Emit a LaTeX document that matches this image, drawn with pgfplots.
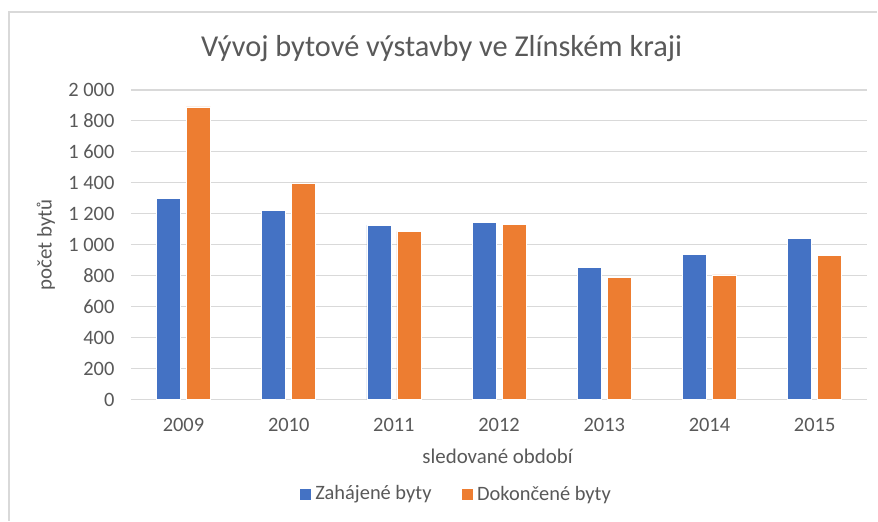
\documentclass[border=0pt]{standalone}
\usepackage{pgfplots}
\pgfplotsset{compat=1.18}
\usepackage{fontspec}
\setmainfont{Carlito}
\definecolor{zah}{HTML}{4472C4}
\definecolor{dok}{HTML}{ED7D31}
\definecolor{txt}{HTML}{595959}
\definecolor{grd}{HTML}{D9D9D9}

\begin{document}
\begin{tikzpicture}[x=1bp,y=1bp]
% page and outer frame
\fill[white] (0,0) rectangle (878,521);
\draw[grd, line width=1.5bp] (9,0) -- (9,509) -- (878,509);

\begin{axis}[
    at={(131bp,121bp)}, anchor=south west,
    scale only axis,
    width=737bp, height=310bp,
    ybar=6bp, bar width=24bp,
    xmin=-0.5, xmax=6.5,
    ymin=0, ymax=2000,
    xtick={0,...,6},
    xticklabels={2009,2010,2011,2012,2013,2014,2015},
    ytick={0,200,...,2000},
    yticklabels={0,200,400,600,800,1 000,1 200,1 400,1 600,1 800,2 000},
    ymajorgrids,
    grid style={grd, line width=1.2bp},
    axis line style={draw=none},
    major tick length=0pt,
    tick label style={font=\fontsize{20.5}{24}\selectfont, text=txt},
    yticklabel style={xshift=-13bp},
    xticklabel style={yshift=-15bp},
]
\addplot[fill=zah, draw=white, line width=0.6bp] coordinates {
(0,1297) (1,1224) (2,1127) (3,1146) (4,852) (5,938) (6,1041)};
\addplot[fill=dok, draw=white, line width=0.6bp] coordinates {
(0,1890) (1,1400) (2,1086) (3,1133) (4,787) (5,806) (6,931)};
\end{axis}

\node[text=txt, font=\fontsize{30.5}{34}\selectfont] at (442,472) {Vývoj bytové výstavby ve Zlínském kraji};
\node[text=txt, font=\fontsize{21}{24}\selectfont, rotate=90] at (46,276) {počet bytů};
\node[text=txt, font=\fontsize{21}{24}\selectfont] at (498,64) {sledované období};

% legend
\fill[zah] (300,21) rectangle (311,32);
\node[text=txt, font=\fontsize{20.5}{24}\selectfont, anchor=west] at (312,26) {Zahájené byty};
\fill[dok] (462,21) rectangle (473,32);
\node[text=txt, font=\fontsize{20.5}{24}\selectfont, anchor=west] at (474,26) {Dokončené byty};
\end{tikzpicture}
\end{document}
